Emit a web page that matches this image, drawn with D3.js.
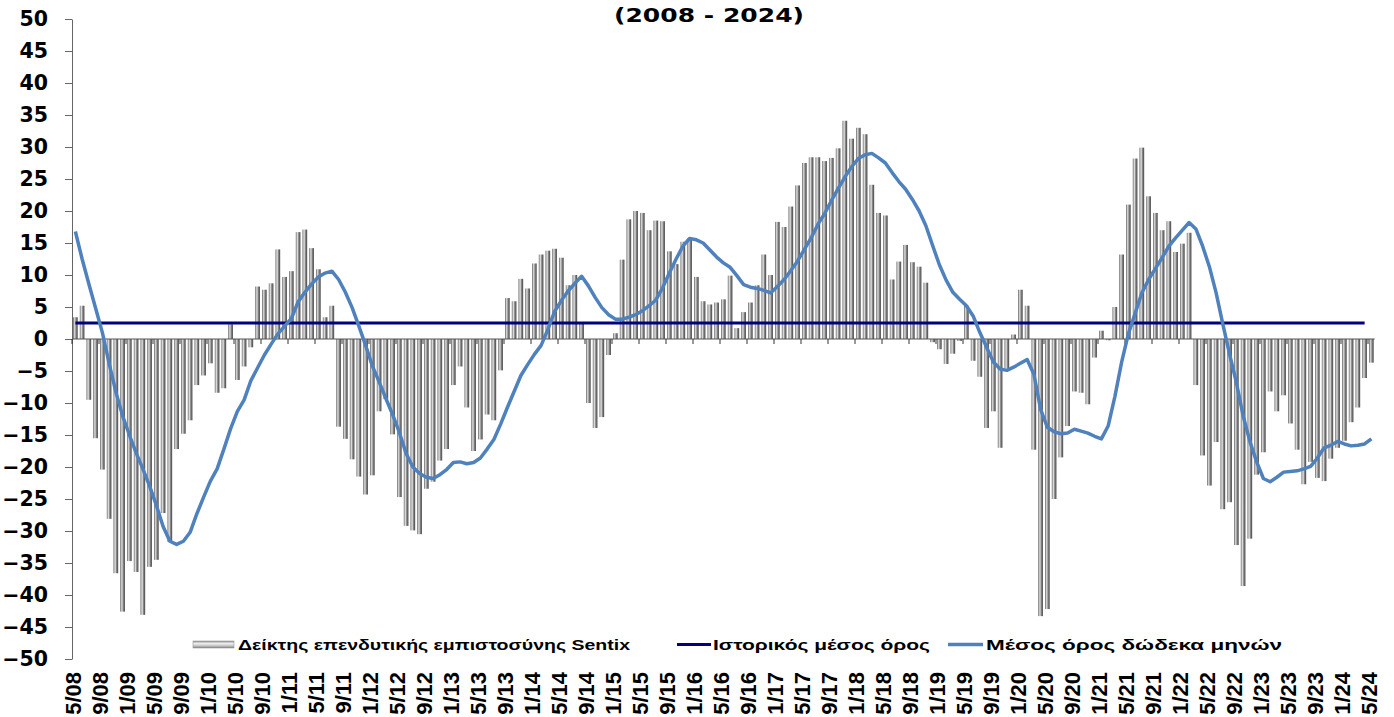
<!DOCTYPE html>
<html>
<head>
<meta charset="utf-8">
<script src="https://cdn.jsdelivr.net/npm/d3@7"></script>
<style>
  body { margin: 0; background: #fff; }
  svg { display: block; }
</style>
</head>
<body>
<div class="chart"></div>
<script>
/* global d3 */

// Sentix index, monthly from 5/08 to 5/24
var sentix = [
  3.4, 5.2, -9.5, -15.5, -20.4, -28.1, -36.6, -42.6, -34.7, -36.4, -43.1, -35.6,
  -34.5, -27.2, -31.7, -17.2, -14.8, -12.7, -7.2, -5.7, -3.8, -8.4, -7.7, 2.3,
  -6.4, -4.3, -1.3, 8.2, 7.7, 8.7, 14.0, 9.7, 10.6, 16.7, 17.1, 14.2,
  10.9, 3.4, 5.2, -13.7, -15.6, -18.8, -21.5, -24.3, -21.3, -11.3, -9.4, -14.9,
  -24.7, -29.2, -29.9, -30.5, -23.4, -22.3, -19.0, -17.2, -7.2, -4.3, -10.7, -17.5,
  -15.7, -11.8, -12.7, -4.9, 6.4, 5.9, 9.4, 7.9, 11.8, 13.2, 13.8, 14.1,
  12.7, 8.4, 10.0, 2.4, -10.0, -13.9, -12.2, -2.5, 0.9, 12.4, 18.7, 20.0,
  19.7, 17.0, 18.5, 18.4, 13.7, 11.7, 15.2, 15.7, 9.7, 5.9, 5.4, 5.7,
  6.2, 9.9, 1.7, 4.2, 5.7, 8.4, 13.2, 10.0, 18.3, 17.5, 20.7, 24.0,
  27.5, 28.4, 28.4, 27.8, 28.3, 29.8, 34.1, 31.3, 33.0, 32.0, 24.1, 19.7,
  19.3, 9.3, 12.1, 14.7, 12.0, 11.3, 8.8, -0.5, -1.6, -3.9, -2.3, -0.3,
  5.2, -3.4, -5.9, -13.9, -11.3, -17.0, -4.6, 0.7, 7.7, 5.2, -17.3, -43.3,
  -42.2, -25.0, -18.5, -13.6, -8.2, -8.4, -10.2, -2.9, 1.3, -0.2, 5.0, 13.2,
  21.0, 28.2, 29.9, 22.3, 19.7, 17.0, 18.4, 13.6, 14.9, 16.6, -7.2, -18.2,
  -22.9, -16.1, -26.6, -25.5, -32.2, -38.6, -31.2, -21.2, -17.7, -8.2, -11.3, -8.8,
  -13.2, -17.3, -22.7, -19.2, -21.7, -22.2, -18.7, -17.0, -15.9, -13.0, -10.7, -6.1,
  -3.7
];

// twelve month average line
var avg12 = [
  16.8, 12.5, 8.6, 4.8, 1.0, -3.8, -8.3, -12.0, -15.0, -17.8, -20.3, -23.0,
  -26.0, -29.3, -31.6, -32.1, -31.6, -30.2, -27.3, -24.7, -22.2, -20.3, -17.2, -14.0,
  -11.3, -9.5, -6.5, -4.5, -2.5, -0.8, 0.8, 2.0, 3.2, 5.8, 7.3, 8.6,
  9.7, 10.3, 10.6, 9.3, 7.3, 4.9, 2.0, -1.0, -4.2, -6.7, -9.3, -11.8,
  -14.6, -17.9, -20.0, -21.0, -21.6, -21.8, -21.2, -20.4, -19.3, -19.2, -19.5, -19.3,
  -18.6, -17.2, -15.7, -13.3, -10.7, -8.2, -5.7, -4.0, -2.4, -1.0, 1.5, 4.3,
  6.0, 7.5, 8.7, 9.8, 8.3, 6.5, 4.9, 3.8, 3.1, 3.1, 3.4, 3.8,
  4.4, 5.2, 6.1, 8.0, 10.3, 12.5, 14.5, 15.7, 15.5, 15.0, 13.9, 12.8,
  11.9, 11.2, 9.9, 8.5, 8.1, 7.9, 7.6, 7.2, 8.2, 9.3, 10.7, 12.2,
  14.0, 15.8, 17.9, 19.6, 21.6, 23.5, 25.3, 26.9, 28.2, 28.8, 29.0, 28.3,
  27.5, 26.0, 24.6, 23.4, 21.8, 20.0, 17.7, 14.6, 11.6, 9.2, 7.3, 6.2,
  5.2, 3.6, 1.0, -1.3, -3.6, -4.7, -4.9, -4.4, -3.8, -3.2, -5.5, -11.0,
  -13.8, -14.5, -14.8, -14.7, -14.1, -14.4, -14.7, -15.2, -15.6, -13.6, -9.0, -3.6,
  0.8, 4.0, 7.2, 9.3, 11.0, 12.7, 14.5, 15.8, 17.0, 18.2, 17.2, 14.5,
  11.3, 7.2, 2.3, -2.4, -6.8, -12.0, -16.0, -19.2, -21.8, -22.3, -21.6, -20.8,
  -20.7, -20.6, -20.3, -19.9, -18.6, -17.0, -16.6, -16.0, -16.4, -16.7, -16.6, -16.4,
  -15.6
];

// historical mean, drawn from 5/08 to 4/24
var histMean = 2.5;
var histSpan = ["5/08", "4/24"];

var tickLabels = [
  "5/08", "9/08", "1/09", "5/09", "9/09", "1/10", "5/10", "9/10", "1/11", "5/11",
  "9/11", "1/12", "5/12", "9/12", "1/13", "5/13", "9/13", "1/14", "5/14", "9/14",
  "1/15", "5/15", "9/15", "1/16", "5/16", "9/16", "1/17", "5/17", "9/17", "1/18",
  "5/18", "9/18", "1/19", "5/19", "9/19", "1/20", "5/20", "9/20", "1/21", "5/21",
  "9/21", "1/22", "5/22", "9/22", "1/23", "5/23", "9/23", "1/24", "5/24"
];

var yTicks = [-50, -45, -40, -35, -30, -25, -20, -15, -10, -5, 0, 5, 10, 15, 20, 25, 30, 35, 40, 45, 50];

var legendNames = [
  "Δείκτης επενδυτικής εμπιστοσύνης Sentix",
  "Ιστορικός μέσος όρος",
  "Μέσος όρος δώδεκα μηνών"
];

var title = "(2008 - 2024)";

// month categories 5/08 ... 5/24
var months = [];
for (var i = 0; i < sentix.length; i++) {
  var m = (4 + i) % 12 + 1;
  var yy = 8 + Math.floor((4 + i) / 12);
  months.push(m + "/" + (yy < 10 ? "0" + yy : "" + yy));
}

var chart_width = 1394, chart_height = 717;
var plot_left = 72, plot_right = 1374.75, plot_top = 19, plot_bottom = 659;

var svg = d3.select(".chart")
  .append("svg")
  .attr("width", chart_width)
  .attr("height", chart_height);

var defs = svg.append("defs");

// cylinder look for the bars
var grad = defs.append("linearGradient")
  .attr("id", "barGrad")
  .attr("x1", "0%").attr("x2", "100%")
  .attr("y1", "0%").attr("y2", "0%");
grad.append("stop").attr("offset", "0%").attr("stop-color", "#4a4a4a");
grad.append("stop").attr("offset", "18%").attr("stop-color", "#b8b8b8");
grad.append("stop").attr("offset", "38%").attr("stop-color", "#dcdcdc");
grad.append("stop").attr("offset", "60%").attr("stop-color", "#8c8c8c");
grad.append("stop").attr("offset", "100%").attr("stop-color", "#444444");

var gradH = defs.append("linearGradient")
  .attr("id", "legGrad")
  .attr("x1", "0%").attr("x2", "0%")
  .attr("y1", "0%").attr("y2", "100%");
gradH.append("stop").attr("offset", "0%").attr("stop-color", "#8a8a8a");
gradH.append("stop").attr("offset", "35%").attr("stop-color", "#eeeeee");
gradH.append("stop").attr("offset", "70%").attr("stop-color", "#c4c4c4");
gradH.append("stop").attr("offset", "100%").attr("stop-color", "#7a7a7a");

var x = d3.scaleBand()
  .domain(months)
  .range([plot_left, plot_right])
  .paddingInner(0.32)
  .paddingOuter(0.16);

var y = d3.scaleLinear()
  .domain([-50, 50])
  .range([plot_bottom, plot_top]);

function cx(m) { return x(m) + x.bandwidth() / 2; }

// bars
svg.append("g")
  .selectAll("rect")
  .data(sentix)
  .enter()
  .append("rect")
  .attr("x", function(d, i) { return x(months[i]); })
  .attr("width", x.bandwidth())
  .attr("y", function(d) { return y(Math.max(0, d)); })
  .attr("height", function(d) { return Math.abs(y(d) - y(0)); })
  .attr("fill", "url(#barGrad)");

// y axis
var yAxis = svg.append("g")
  .attr("transform", "translate(" + plot_left + ",0)")
  .call(d3.axisLeft(y).tickValues(yTicks).tickSize(7).tickSizeOuter(0).tickPadding(17));
yAxis.select(".domain").attr("stroke", "#666");
yAxis.selectAll(".tick line").attr("stroke", "#666");
yAxis.selectAll(".tick text")
  .attr("fill", "#000")
  .attr("font-family", "DejaVu Sans")
  .attr("font-weight", "bold")
  .attr("font-size", "20.5px");

// zero axis with category ticks
svg.append("line")
  .attr("x1", plot_left).attr("x2", plot_right)
  .attr("y1", y(0)).attr("y2", y(0))
  .attr("stroke", "#555").attr("stroke-width", 1);

var edge = (x.step() - x.bandwidth()) / 2;
svg.append("g")
  .selectAll("line")
  .data(tickLabels)
  .enter()
  .append("line")
  .attr("x1", function(d) { return x(d) - edge; })
  .attr("x2", function(d) { return x(d) - edge; })
  .attr("y1", y(0))
  .attr("y2", y(0) + 5)
  .attr("stroke", "#333");

// rotated month labels at the bottom
svg.append("g")
  .selectAll("text")
  .data(tickLabels)
  .enter()
  .append("text")
  .attr("transform", function(d) { return "translate(" + (cx(d) - 2) + ",672) rotate(-90)"; })
  .attr("text-anchor", "end")
  .attr("dy", "0.36em")
  .attr("font-family", "Liberation Sans, Arial")
  .attr("font-weight", "bold")
  .attr("font-size", "22px")
  .text(function(d) { return d; });

// historical mean
svg.append("line")
  .attr("x1", cx(histSpan[0])).attr("x2", cx(histSpan[1]))
  .attr("y1", y(histMean)).attr("y2", y(histMean))
  .attr("stroke", "#000080")
  .attr("stroke-width", 3);

// twelve month average
var line = d3.line()
  .x(function(d, i) { return cx(months[i]); })
  .y(function(d) { return y(d); });

svg.append("path")
  .datum(avg12)
  .attr("d", line)
  .attr("fill", "none")
  .attr("stroke", "#4f81bd")
  .attr("stroke-width", 3.5)
  .attr("stroke-linejoin", "round");

// title
svg.append("text")
  .attr("x", 709)
  .attr("y", 21.5)
  .attr("text-anchor", "middle")
  .attr("font-family", "DejaVu Sans")
  .attr("font-weight", "bold")
  .attr("font-size", "20px")
  .attr("textLength", 190)
  .attr("lengthAdjust", "spacingAndGlyphs")
  .text(title);

// legend
var leg = svg.append("g").attr("font-family", "Liberation Sans, Arial")
  .attr("font-weight", "bold").attr("font-size", "14px");

leg.append("rect")
  .attr("x", 193).attr("y", 641)
  .attr("width", 41).attr("height", 7)
  .attr("fill", "url(#legGrad)")
  .attr("stroke", "#999").attr("stroke-width", 0.6);
leg.append("text").attr("x", 238).attr("y", 650)
  .attr("textLength", 392).attr("lengthAdjust", "spacingAndGlyphs")
  .text(legendNames[0]);

leg.append("line")
  .attr("x1", 677).attr("x2", 711)
  .attr("y1", 644.5).attr("y2", 644.5)
  .attr("stroke", "#000080").attr("stroke-width", 3);
leg.append("text").attr("x", 713).attr("y", 650)
  .attr("textLength", 217).attr("lengthAdjust", "spacingAndGlyphs")
  .text(legendNames[1]);

leg.append("line")
  .attr("x1", 948).attr("x2", 983)
  .attr("y1", 644.5).attr("y2", 644.5)
  .attr("stroke", "#4f81bd").attr("stroke-width", 3.5);
leg.append("text").attr("x", 986).attr("y", 650)
  .attr("textLength", 296).attr("lengthAdjust", "spacingAndGlyphs")
  .text(legendNames[2]);
</script>
</body>
</html>
